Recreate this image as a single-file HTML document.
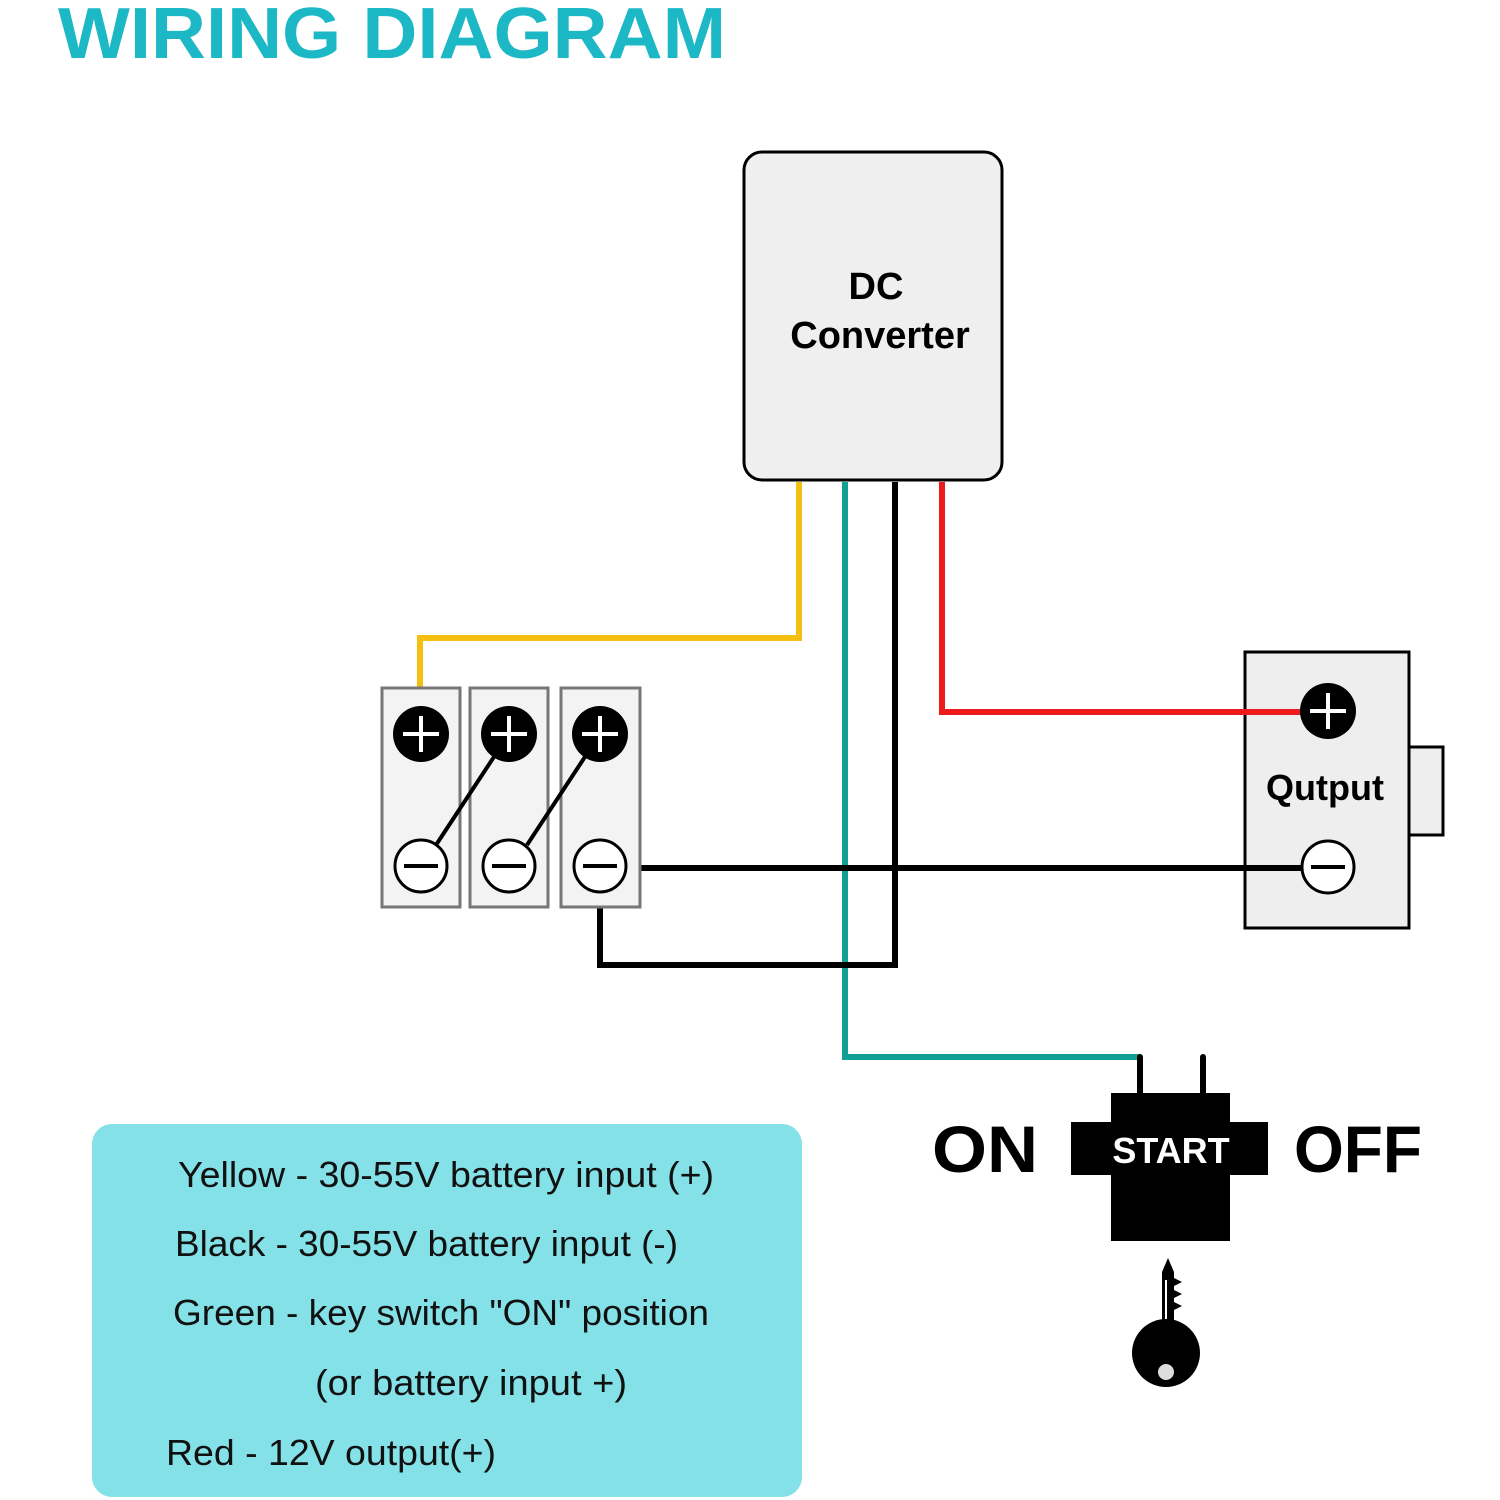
<!DOCTYPE html>
<html><head><style>body{margin:0;background:#fff}svg{display:block}</style></head><body>
<svg width="1500" height="1500" viewBox="0 0 1500 1500" xmlns="http://www.w3.org/2000/svg" font-family="Liberation Sans, sans-serif">
<text x="58" y="58" font-size="72" font-weight="bold" fill="#1cb8c6" textLength="668" lengthAdjust="spacingAndGlyphs">WIRING DIAGRAM</text>
<rect x="744" y="152" width="258" height="328" rx="18" fill="#efefef" stroke="#000" stroke-width="3"/>
<text x="876" y="299" font-size="38" font-weight="bold" text-anchor="middle">DC</text>
<text x="880" y="348" font-size="38" font-weight="bold" text-anchor="middle">Converter</text>
<rect x="1245" y="652" width="164" height="276" fill="#eee" stroke="#000" stroke-width="3"/>
<rect x="1409" y="747" width="34" height="88" fill="#eee" stroke="#000" stroke-width="3"/>
<g fill="none" stroke-width="6">
<polyline points="799,482 799,638 420,638 420,706" stroke="#f5bf0f"/>
<polyline points="845,482 845,1057 1140,1057" stroke="#12a094"/>
<polyline points="895,482 895,965 600,965 600,893" stroke="#000"/>
<polyline points="942,482 942,712 1328,712" stroke="#ec1c1c"/>
<line x1="626" y1="868" x2="1302" y2="868" stroke="#000"/>
</g>
<g fill="#f3f3f3" stroke="#777" stroke-width="3">
<rect x="382" y="688" width="78" height="219"/>
<rect x="470" y="688" width="78" height="219"/>
<rect x="561" y="688" width="79" height="219"/>
</g>
<g stroke="#000" stroke-width="4">
<line x1="509" y1="734" x2="436" y2="845"/>
<line x1="600" y1="734" x2="527" y2="845"/>
</g>
<g>
<circle cx="421" cy="734" r="28"/><circle cx="509" cy="734" r="28"/><circle cx="600" cy="734" r="28"/>
<circle cx="1328" cy="711" r="28"/>
</g>
<g stroke="#fff" stroke-width="4">
<path d="M403 734h36M421 716v36M491 734h36M509 716v36M582 734h36M600 716v36M1310 711h36M1328 693v36"/>
</g>
<g fill="#fff" stroke="#000" stroke-width="3">
<circle cx="421" cy="866" r="26"/><circle cx="509" cy="866" r="26"/><circle cx="600" cy="866" r="26"/><circle cx="1328" cy="867" r="26"/>
</g>
<path d="M404 866h34M492 866h34M583 866h34M1311 867h34" stroke="#000" stroke-width="4"/>
<text x="1325" y="800" font-size="36" font-weight="bold" text-anchor="middle">Qutput</text>
<g stroke="#000" stroke-width="6" stroke-linecap="round">
<line x1="1140" y1="1057" x2="1140" y2="1095"/><line x1="1203" y1="1057" x2="1203" y2="1095"/>
</g>
<rect x="1111" y="1093" width="119" height="148"/>
<rect x="1071" y="1122" width="197" height="53"/>
<text x="1171" y="1163" font-size="36" font-weight="bold" fill="#fff" text-anchor="middle">START</text>
<text x="932" y="1172" font-size="66" font-weight="bold" textLength="106" lengthAdjust="spacingAndGlyphs">ON</text>
<text x="1294" y="1172" font-size="66" font-weight="bold" textLength="128" lengthAdjust="spacingAndGlyphs">OFF</text>
<path d="M1162 1335V1272l6-14 6 14v6l8 4-8 4v4l8 4-8 4v4l8 4-8 4v30z"/>
<line x1="1166" y1="1280" x2="1166" y2="1320" stroke="#fff" stroke-width="2"/>
<circle cx="1166" cy="1353" r="34"/>
<circle cx="1166" cy="1372" r="8" fill="#ddd"/>
<rect x="92" y="1124" width="710" height="373" rx="20" fill="#84e1e8"/>
<g font-size="36" fill="#111" lengthAdjust="spacingAndGlyphs">
<text x="178" y="1187" textLength="536" lengthAdjust="spacingAndGlyphs">Yellow - 30-55V battery input (+)</text>
<text x="175" y="1256" textLength="503" lengthAdjust="spacingAndGlyphs">Black - 30-55V battery input (-)</text>
<text x="173" y="1325" textLength="536" lengthAdjust="spacingAndGlyphs">Green - key switch "ON" position</text>
<text x="315" y="1395" textLength="312" lengthAdjust="spacingAndGlyphs">(or battery input +)</text>
<text x="166" y="1465" textLength="330" lengthAdjust="spacingAndGlyphs">Red - 12V output(+)</text>
</g>
</svg>
</body></html>
